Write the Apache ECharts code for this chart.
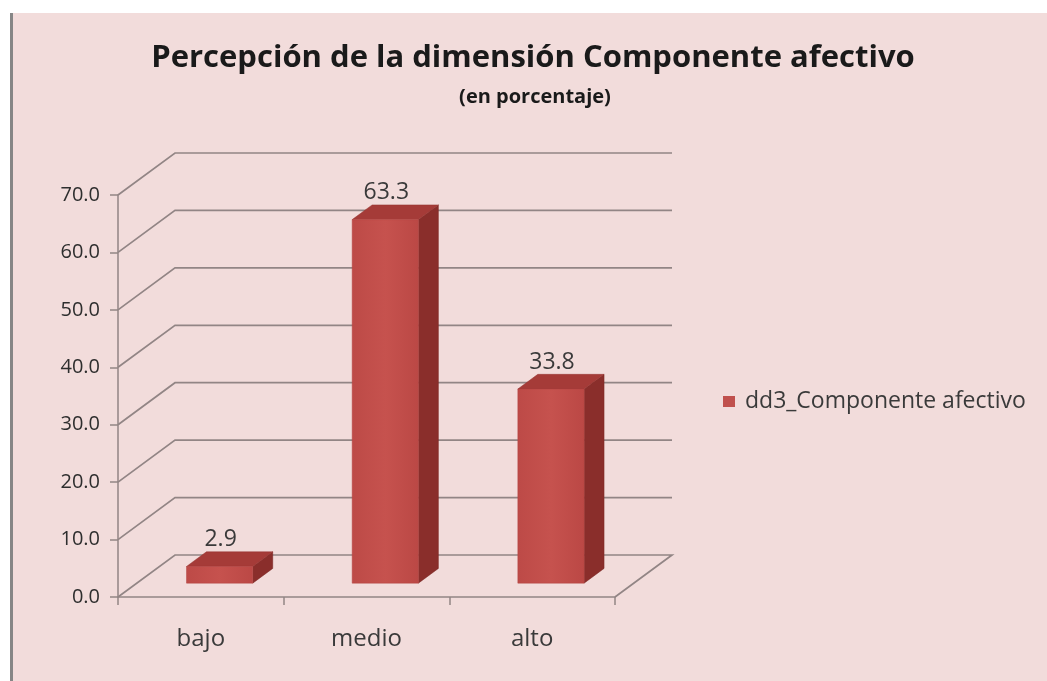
<!DOCTYPE html>
<html>
<head>
<meta charset="utf-8">
<script src="https://cdn.jsdelivr.net/npm/echarts@6/dist/echarts.min.js"></script>
<style>
  html, body { margin:0; padding:0; background:#ffffff; overflow:hidden; }
  #bg { position:absolute; left:10px; top:13px; width:1034px; height:668px; background:#f2dcdb; border-left:3px solid #868686; }
  #chart { position:absolute; left:0; top:0; width:1047px; height:681px; }
</style>
</head>
<body>
<div id="bg"></div>
<div id="chart"></div>
<script>
// ---- data ----
const titleText = 'Percepción de la dimensión Componente afectivo';
const subtitleText = '(en porcentaje)';
const seriesName = 'dd3_Componente afectivo';
const categories = ['bajo', 'medio', 'alto'];
const values = [2.9, 63.3, 33.8];
const yTicks = [0, 10, 20, 30, 40, 50, 60, 70];

// ---- 3D look (styling only) ----
const DX = 57, DY = -42;          // depth offset of back wall
const BAR_D0 = 0.33, BAR_D1 = 0.35; // bar depth start / thickness (fraction of full depth)
const BAR_W = 0.40;               // bar width as fraction of category band
const GRID_COLOR = '#928585';
const FONT = '"Open Sans", "Noto Sans", sans-serif';

const chart = echarts.init(document.getElementById('chart'), null, { renderer: 'canvas' });

const option = {
  backgroundColor: 'transparent',
  animation: false,
  graphic: [
    { type: 'text', x: 533, y: 58, z: 10,
      style: { text: titleText, font: 'bold 31px ' + FONT, fill: '#1a1a1a', align: 'center', verticalAlign: 'middle', textAlign: 'center', textVerticalAlign: 'middle' } },
    { type: 'text', x: 535, y: 97, z: 10,
      style: { text: subtitleText, font: 'bold 20px ' + FONT, fill: '#1a1a1a', align: 'center', verticalAlign: 'middle', textAlign: 'center', textVerticalAlign: 'middle' } }
  ],
  legend: {
    data: [{ name: seriesName, icon: 'rect' }],
    left: 723, top: 390, padding: 0,
    itemWidth: 12, itemHeight: 11, itemGap: 10,
    selectedMode: false,
    textStyle: { fontFamily: FONT, fontSize: 23, color: '#3a3a3a', padding: [0, 0, 0, 5] }
  },
  grid: { left: 118, right: 432, top: 195, bottom: 84, containLabel: false },
  xAxis: {
    type: 'category',
    data: categories,
    boundaryGap: true,
    axisLine: { show: true, lineStyle: { color: GRID_COLOR, width: 1.5 } },
    axisTick: { show: true, length: 8, lineStyle: { color: GRID_COLOR, width: 1.5 } },
    axisLabel: { margin: 30, fontFamily: FONT, fontSize: 24, color: '#3a3a3a' },
    splitLine: { show: false }
  },
  yAxis: {
    type: 'value',
    min: 0, max: 70, interval: 10,
    axisLine: { show: true, lineStyle: { color: GRID_COLOR, width: 1.5 } },
    axisTick: { show: true, length: 8, lineStyle: { color: GRID_COLOR, width: 1.5 } },
    axisLabel: { margin: 18, fontFamily: FONT, fontSize: 20, color: '#2e2e2e',
      formatter: v => v.toFixed(1) },
    splitLine: { show: false }
  },
  series: [
    {
      // back wall gridlines, side wall diagonals and floor
      type: 'custom',
      name: 'walls',
      silent: true,
      z: 1,
      data: yTicks.map(v => [0, v]),
      renderItem: function (params, api) {
        const cs = params.coordSys;
        const y = api.coord([0, api.value(1)])[1];
        const left = cs.x, right = cs.x + cs.width;
        let pts;
        if (api.value(1) === 0) {
          pts = [[left, y], [left + DX, y + DY], [right + DX, y + DY], [right, y]];
        } else {
          pts = [[left, y], [left + DX, y + DY], [right + DX, y + DY]];
        }
        return { type: 'polyline', shape: { points: pts },
          style: { stroke: GRID_COLOR, lineWidth: 1.7, fill: null } };
      }
    },
    {
      type: 'custom',
      name: seriesName,
      z: 5,
      itemStyle: { color: '#c0504d' },
      data: values.map((v, i) => [i, v]),
      renderItem: function (params, api) {
        const idx = api.value(0), v = api.value(1);
        const base = api.coord([idx, 0]);
        const top = api.coord([idx, v]);
        const band = api.size([1, 0])[0];
        const w = band * BAR_W;
        const ox = DX * BAR_D0, oy = DY * BAR_D0;
        const dx = DX * BAR_D1, dy = DY * BAR_D1;
        const x0 = base[0] - w / 2 + ox, x1 = x0 + w;
        const yb = base[1] + oy, yt = top[1] + oy;
        return {
          type: 'group',
          children: [
            { type: 'polygon', shape: { points: [[x1, yb], [x1 + dx, yb + dy], [x1 + dx, yt + dy], [x1, yt]] },
              style: { fill: '#8a2e2b', stroke: '#7a2825', lineWidth: 0.5 } },
            { type: 'polygon', shape: { points: [[x0, yt], [x1, yt], [x1 + dx, yt + dy], [x0 + dx, yt + dy]] },
              style: { fill: '#a53b38', stroke: '#943431', lineWidth: 0.5 } },
            { type: 'rect', shape: { x: x0, y: yt, width: w, height: yb - yt },
              style: { fill: new echarts.graphic.LinearGradient(0, 0, 1, 0, [
                  { offset: 0, color: '#bd4a47' }, { offset: 0.5, color: '#c6524e' }, { offset: 1, color: '#bb4845' }]),
                stroke: '#b24542', lineWidth: 0.5 } },
            { type: 'text', x: (x0 + x1) / 2 + 1, y: yt + dy - 12,
              style: { text: v.toFixed(1), font: '23px ' + FONT, fill: '#3a3a3a',
                align: 'center', verticalAlign: 'middle', textAlign: 'center', textVerticalAlign: 'middle' } }
          ]
        };
      }
    }
  ]
};
chart.setOption(option);
</script>
</body>
</html>
